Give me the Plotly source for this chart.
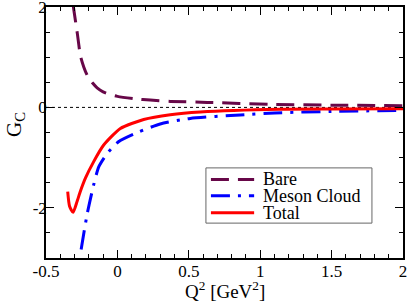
import plotly.graph_objects as go

# Data
bare_x = [-0.31, -0.306, -0.28, -0.259, -0.235, -0.21, -0.175, -0.142, -0.1, -0.05, 0.0, 0.126, 0.23, 0.37, 0.63, 1.07, 1.5, 2.0]
bare_y = [2.05, 1.96, 1.46, 1.03, 0.8, 0.63, 0.49, 0.39, 0.31, 0.255, 0.22, 0.17, 0.145, 0.12, 0.1, 0.06, 0.045, 0.035]

meson_x = [-0.254, -0.21, -0.166, -0.13, -0.072, 0.01, 0.14, 0.3, 0.51, 0.86, 1.1, 1.5, 2.0]
meson_y = [-2.83, -2.1, -1.54, -1.18, -0.92, -0.68, -0.5, -0.33, -0.22, -0.15, -0.11, -0.08, -0.06]

total_x = [-0.348, -0.335, -0.31, -0.282, -0.259, -0.224, -0.166, -0.096, 0.021, 0.184, 0.37, 0.58, 1.14, 1.5, 2.0]
total_y = [-1.68, -1.97, -2.09, -1.87, -1.67, -1.41, -1.08, -0.75, -0.42, -0.24, -0.145, -0.09, -0.035, -0.03, -0.025]

series_names = ["Bare", "Meson Cloud", "Total"]

x_tickvals = [-0.5, 0, 0.5, 1, 1.5, 2]
x_ticktext = ["-0.5", "0", "0.5", "1", "1.5", "2"]
y_tickvals = [-2, 0, 2]
y_ticktext = ["-2", "0", "2"]

FONT = "Times New Roman"
styles = [
    dict(color="#670748", width=3, dash="18px,9px"),
    dict(color="#0000FF", width=3, dash="19px,8px,3px,8px"),
    dict(color="#FF0000", width=3, dash="solid"),
]

fig = go.Figure()
for (xs, ys), name, st in zip([(bare_x, bare_y), (meson_x, meson_y), (total_x, total_y)], series_names, styles):
    fig.add_trace(go.Scatter(x=xs, y=ys, mode="lines", name=name, showlegend=False,
                             line=dict(st, shape="spline", smoothing=0.6)))

fig.add_shape(type="line", xref="paper", x0=0, x1=1, yref="y", y0=0, y1=0,
              line=dict(color="black", width=1, dash="dot"), layer="below")

# legend box (manual, compact like the reference)
fig.add_shape(type="rect", xref="paper", yref="paper", x0=0.448, x1=0.913, y0=0.139, y1=0.359,
              line=dict(color="#666666", width=1), fillcolor="white", layer="above")
leg_y = [0.313, 0.248, 0.180]
annotations = []
for name, st, ly in zip(series_names, styles, leg_y):
    fig.add_shape(type="line", xref="paper", yref="paper", x0=0.462, x1=0.583, y0=ly, y1=ly,
                  line=dict(color=st["color"], width=st["width"], dash=st["dash"]), layer="above")
    annotations.append(dict(text=name, xref="paper", yref="paper", x=0.602, y=ly,
                            xanchor="left", yanchor="middle", showarrow=False,
                            font=dict(family=FONT, size=18, color="black")))

axis_common = dict(
    showgrid=False, zeroline=False, showline=True, linecolor="black", linewidth=1.5,
    mirror="ticks", ticks="inside", ticklen=8, tickwidth=1, tickcolor="black",
    tickfont=dict(family=FONT, size=17, color="black"),
    automargin=False, ticklabeloverflow="allow", tickmode="array",
)

annotations += [
    dict(text="Q<sup>2</sup> [GeV<sup>2</sup>]", xref="paper", yref="paper",
         x=0.5, y=0, yshift=-46, xanchor="center", yanchor="bottom",
         showarrow=False, font=dict(family=FONT, size=19, color="black")),
    dict(text="G<sub>C</sub>", xref="paper", yref="paper",
         x=0, y=0.53, xshift=-46, xanchor="left", yanchor="middle", textangle=-90,
         showarrow=False, font=dict(family=FONT, size=21, color="black")),
]

fig.update_layout(
    width=409, height=305,
    margin=dict(l=46, r=6, t=7, b=47),
    paper_bgcolor="white", plot_bgcolor="white",
    font=dict(family=FONT, color="black"),
    xaxis=dict(range=[-0.5, 2], tickvals=x_tickvals, ticktext=x_ticktext, ticklabelstandoff=-3,
               minor=dict(dtick=0.1, tick0=0, ticklen=4, ticks="inside", tickcolor="black"),
               **axis_common),
    yaxis=dict(range=[-3, 2], tickvals=y_tickvals, ticktext=y_ticktext, ticklabelstandoff=-6,
               minor=dict(dtick=0.5, tick0=0, ticklen=4, ticks="inside", tickcolor="black"),
               **axis_common),
    showlegend=False,
    annotations=annotations,
)

fig.write_html("out.html", config={"displayModeBar": False},
               post_script="document.body.style.margin='0';document.body.style.padding='0';")
